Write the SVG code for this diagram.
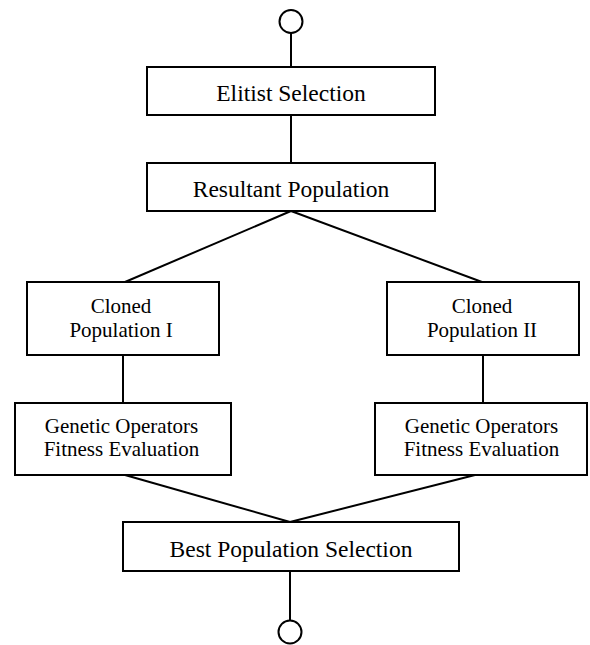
<svg xmlns="http://www.w3.org/2000/svg" width="590" height="645" viewBox="0 0 590 645">
<style>
.box{fill:#fff;stroke:#000;stroke-width:2}
.term{fill:#fff;stroke:#000;stroke-width:2}
.conn line{stroke:#000;stroke-width:2}
.t{font-family:'Liberation Serif','Times New Roman','DejaVu Serif',serif;fill:#000;text-anchor:middle}
.big{font-size:23.5px}
.sm{font-size:21px}
</style>
<rect width="590" height="645" fill="#fff"/>
<g id="connectors" class="conn">
<line x1="291" y1="33" x2="291" y2="67"/>
<line x1="291" y1="115" x2="291" y2="163"/>
<line x1="291" y1="211" x2="125" y2="282"/>
<line x1="291" y1="211" x2="482" y2="282"/>
<line x1="123" y1="355" x2="123" y2="403"/>
<line x1="483" y1="355" x2="483" y2="403"/>
<line x1="125" y1="475" x2="290" y2="522"/>
<line x1="475" y1="475" x2="290" y2="522"/>
<line x1="290" y1="571" x2="290" y2="620"/>
</g>
<g id="start"><circle class="term" cx="291" cy="21.5" r="11.5"/></g>
<g id="elitist"><rect class="box" x="147" y="67" width="288" height="48"/><text class="t big" font-family="Liberation Serif, serif" x="291" y="100.5">Elitist Selection</text></g>
<g id="resultant"><rect class="box" x="147" y="163" width="288" height="48"/><text class="t big" x="291" y="196.5">Resultant Population</text></g>
<g id="cloned1"><rect class="box" x="27" y="282" width="192" height="73"/><text class="t sm" x="121" y="312.5">Cloned</text><text class="t sm" x="121" y="336.5">Population I</text></g>
<g id="cloned2"><rect class="box" x="387" y="282" width="192" height="73"/><text class="t sm" x="482" y="312.5">Cloned</text><text class="t sm" x="482" y="336.5">Population II</text></g>
<g id="genetic1"><rect class="box" x="15" y="403" width="216" height="72"/><text class="t sm" x="121.5" y="432.5">Genetic Operators</text><text class="t sm" x="121.5" y="456">Fitness Evaluation</text></g>
<g id="genetic2"><rect class="box" x="375" y="403" width="212" height="72"/><text class="t sm" x="481.5" y="432.5">Genetic Operators</text><text class="t sm" x="481.5" y="456">Fitness Evaluation</text></g>
<g id="best"><rect class="box" x="123" y="522" width="336" height="49"/><text class="t big" x="291" y="557">Best Population Selection</text></g>
<g id="end"><circle class="term" cx="290" cy="632" r="11.5"/></g>
</svg>
